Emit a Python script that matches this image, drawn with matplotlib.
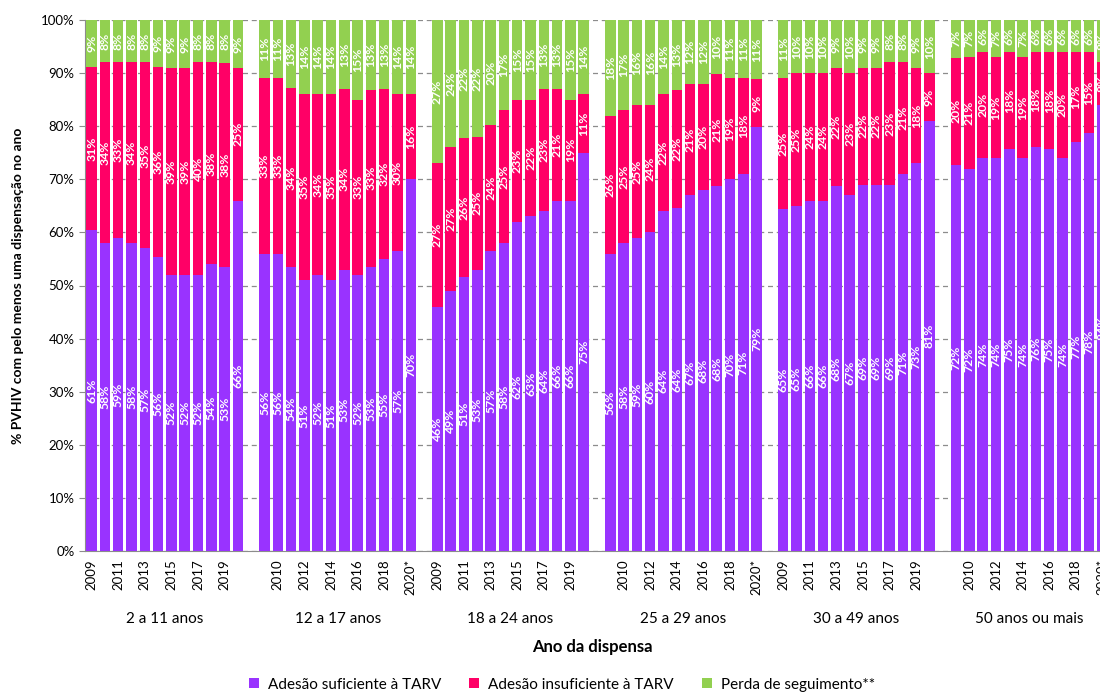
import matplotlib
matplotlib.use("Agg")
import matplotlib.pyplot as plt
from matplotlib.patches import Patch
import numpy as np

plt.rcParams["font.family"] = ["Lato", "DejaVu Sans"]

groups = ["2 a 11 anos", "12 a 17 anos", "18 a 24 anos",
          "25 a 29 anos", "30 a 49 anos", "50 anos ou mais"]
years = ["2009", "2010", "2011", "2012", "2013", "2014", "2015",
         "2016", "2017", "2018", "2019", "2020*"]

# percentages shown on the bars, one row per age group, 2009..2020
suficiente = [
    [61, 58, 59, 58, 57, 56, 52, 52, 52, 54, 53, 66],
    [56, 56, 54, 51, 52, 51, 53, 52, 53, 55, 57, 70],
    [46, 49, 51, 53, 57, 58, 62, 63, 64, 66, 66, 75],
    [56, 58, 59, 60, 64, 64, 67, 68, 68, 70, 71, 79],
    [65, 65, 66, 66, 68, 67, 69, 69, 69, 71, 73, 81],
    [72, 72, 74, 74, 75, 74, 76, 75, 74, 77, 78, 84],
]
insuficiente = [
    [31, 34, 33, 34, 35, 36, 39, 39, 40, 38, 38, 25],
    [33, 33, 34, 35, 34, 35, 34, 33, 33, 32, 30, 16],
    [27, 27, 26, 25, 24, 25, 23, 22, 23, 21, 19, 11],
    [26, 25, 25, 24, 22, 22, 21, 20, 21, 19, 18, 9],
    [25, 25, 24, 24, 22, 23, 22, 22, 23, 21, 18, 9],
    [20, 21, 20, 19, 18, 19, 18, 18, 20, 17, 15, 8],
]
perda = [
    [9, 8, 8, 8, 8, 9, 9, 9, 8, 8, 8, 9],
    [11, 11, 13, 14, 14, 14, 13, 15, 13, 13, 14, 14],
    [27, 24, 22, 22, 20, 17, 15, 15, 13, 13, 15, 14],
    [18, 17, 16, 16, 14, 13, 12, 12, 10, 11, 11, 11],
    [11, 10, 10, 10, 9, 10, 9, 9, 8, 8, 9, 10],
    [7, 7, 6, 7, 6, 7, 6, 6, 6, 6, 6, 8],
]

series = [
    ("Adesão suficiente à TARV", suficiente, "#9933FF"),
    ("Adesão insuficiente à TARV", insuficiente, "#FF0066"),
    ("Perda de seguimento**", perda, "#92D050"),
]

W, H = 1100, 693
fig = plt.figure(figsize=(W / 100, H / 100), dpi=100)
# plot area runs past the right edge, as in the cropped original
ax = fig.add_axes([85 / W, (H - 551) / H, (1109 - 85) / W, 531 / H])

nyear = len(years)
slot = nyear + 1
bar_w = 0.79

totals = np.array(suficiente) + np.array(insuficiente) + np.array(perda)
for g in range(len(groups)):
    x = g * slot + np.arange(nyear)
    bottom = np.zeros(nyear)
    for name, vals, color in series:
        v = np.array(vals[g], dtype=float)
        h = v / totals[g] * 100  # 100% stacked
        ax.bar(x, h, bar_w, bottom=bottom, color=color, zorder=3)
        for xi, b, hi, lab in zip(x, bottom, h, vals[g]):
            ax.text(xi, b + hi / 2, f"{lab}%", rotation=90, ha="center",
                    va="center", color="white", fontsize=8.8,
                    fontweight="bold", zorder=4)
        bottom += h

ax.set_xlim(-0.5, len(groups) * slot - 1.5)
ax.set_ylim(0, 100)
ax.set_yticks(np.arange(0, 101, 10))
ax.set_yticklabels([f"{t}%" for t in range(0, 101, 10)], fontsize=9.5)
ax.yaxis.grid(True, linestyle=(0, (4, 3)), color="#8c8c8c", linewidth=0.9,
              zorder=0)
ax.set_axisbelow(True)

# every other category slot gets a year label (blank slots included)
tick_pos, tick_lab = [], []
for s in range(0, len(groups) * slot - 1, 2):
    g, i = divmod(s, slot)
    if i < nyear:
        tick_pos.append(s)
        tick_lab.append(years[i])
ax.set_xticks(tick_pos)
ax.set_xticklabels(tick_lab, rotation=90, fontsize=9.5)
ax.tick_params(axis="x", length=0, pad=6)
ax.tick_params(axis="y", length=4, color="#8c8c8c")

for side in ["top", "right"]:
    ax.spines[side].set_visible(False)
for side in ["left", "bottom"]:
    ax.spines[side].set_color("#8c8c8c")

for g, name in enumerate(groups):
    xc = g * slot + (nyear - 1) / 2
    ax.text(xc, -12.8, name, ha="center", va="center", fontsize=11)

ax.text(0.495, -0.18, "Ano da dispensa", transform=ax.transAxes,
        ha="center", va="center", fontsize=12, fontweight="bold")
ax.set_ylabel("% PVHIV com pelo menos uma dispensação no ano",
              fontsize=10, fontweight="bold", labelpad=12)

handles = [Patch(facecolor=c, label=n) for n, _, c in series]
fig.legend(handles=handles, loc="lower center", ncol=3, frameon=False,
           fontsize=11, handlelength=0.65, handleheight=0.65,
           columnspacing=1.8, handletextpad=0.6,
           bbox_to_anchor=(0.511, -0.018))

fig.savefig("out.png", dpi=100)
